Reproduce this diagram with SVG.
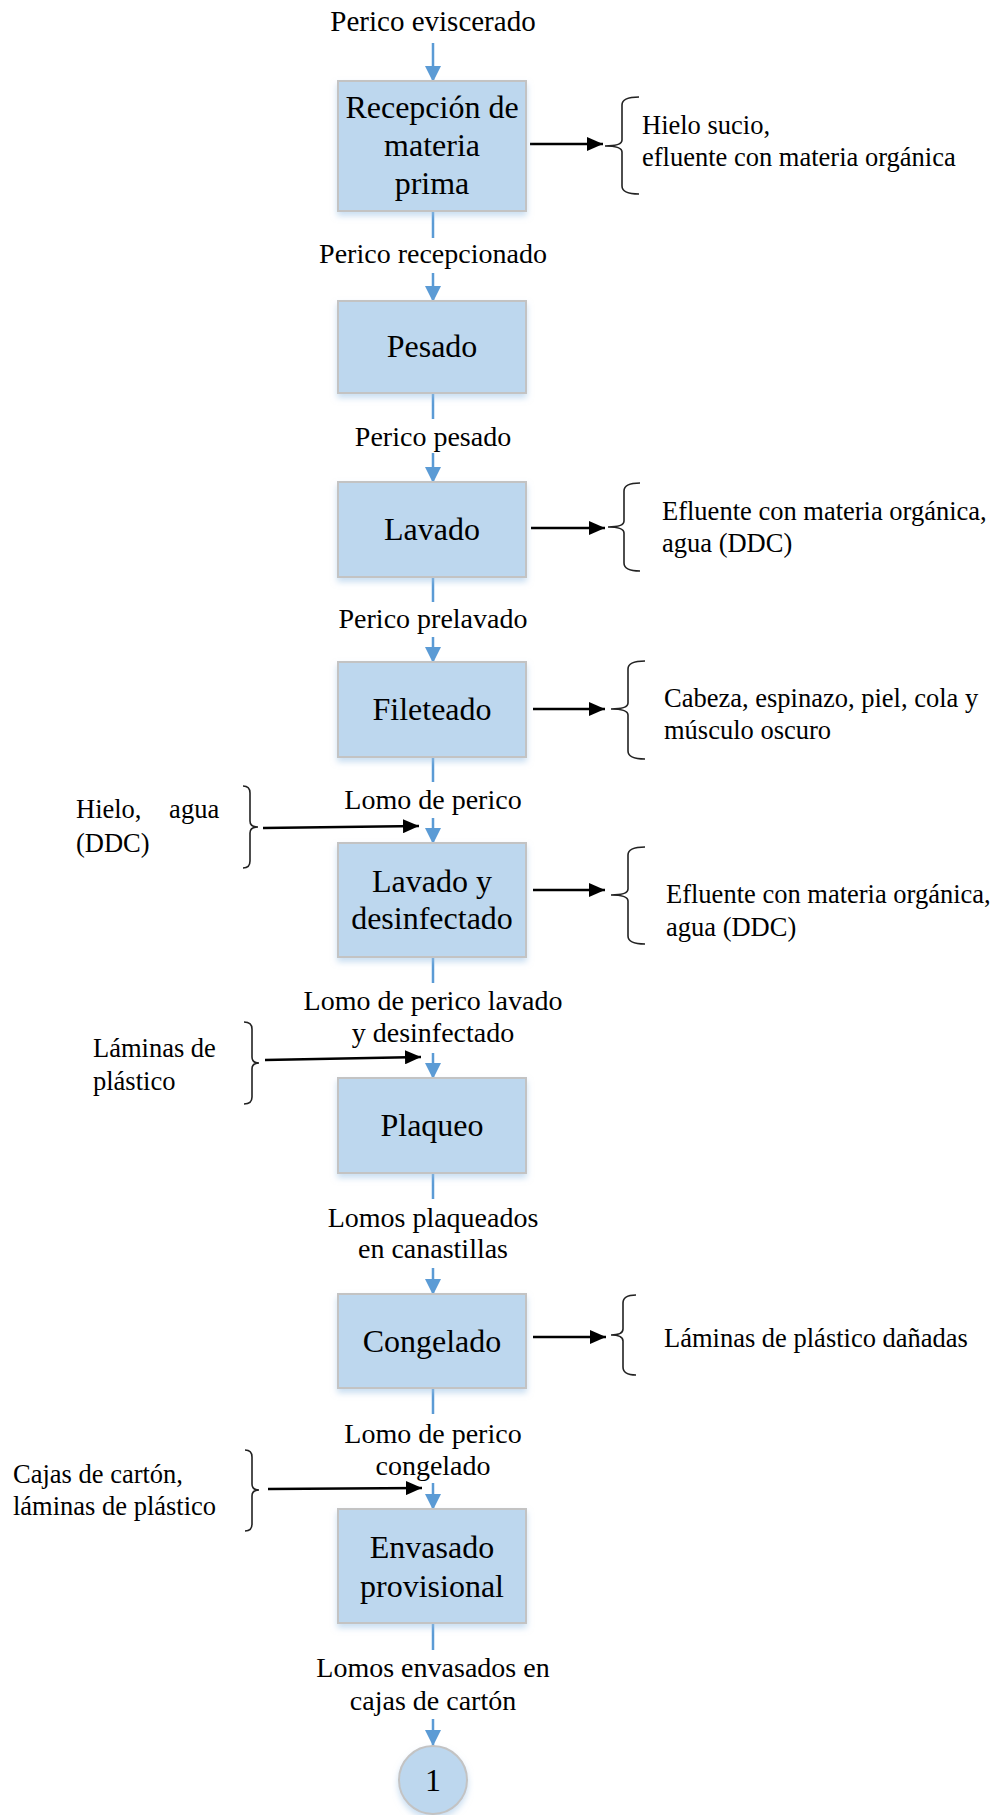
<svg xmlns="http://www.w3.org/2000/svg" width="998" height="1815" viewBox="0 0 998 1815">
  <style>
    .box { fill: #BDD7EE; stroke: #C3C3C3; stroke-width: 2; filter: url(#shadow); }
    .btext { font-family: "Liberation Serif", "Times New Roman", serif; font-size: 32px; fill: #000; text-anchor: middle; }
    .lbl { font-family: "Liberation Serif", "Times New Roman", serif; font-size: 28px; fill: #000; text-anchor: middle; }
    .side { font-family: "Liberation Serif", "Times New Roman", serif; font-size: 26.5px; fill: #000; }
    .flow { stroke: #5B9BD5; stroke-width: 2.5; fill: none; }
    .flowa { stroke: #5B9BD5; stroke-width: 2.5; fill: none; marker-end: url(#blueHead); }
    .out { stroke: #000; stroke-width: 2.5; fill: none; marker-end: url(#blackHead); }
    .brace { stroke: #222; stroke-width: 1.6; fill: none; }
  </style>
  <defs>
    <filter id="shadow" x="-10%" y="-10%" width="120%" height="130%">
      <feDropShadow dx="0" dy="4" stdDeviation="3" flood-color="#9DC3E6" flood-opacity="0.55"/>
    </filter>
    <marker id="blueHead" markerUnits="userSpaceOnUse" markerWidth="16" markerHeight="16" viewBox="0 0 16 16" refX="16" refY="8" orient="auto">
      <path d="M0,0 L16,8 L0,16 Z" fill="#5B9BD5"/>
    </marker>
    <marker id="blackHead" markerUnits="userSpaceOnUse" markerWidth="16" markerHeight="14" viewBox="0 0 16 14" refX="16" refY="7" orient="auto">
      <path d="M0,0 L16,7 L0,14 Z" fill="#000"/>
    </marker>
  </defs>

  <rect width="998" height="1815" fill="#fff"/>

  <!-- vertical flow connectors -->
  <g id="connectors">
    <line class="flowa" x1="433" y1="43" x2="433" y2="82"/>
    <line class="flow" x1="433" y1="211" x2="433" y2="238"/>
    <line class="flowa" x1="433" y1="273" x2="433" y2="302"/>
    <line class="flow" x1="433" y1="393" x2="433" y2="419"/>
    <line class="flowa" x1="433" y1="453" x2="433" y2="483"/>
    <line class="flow" x1="433" y1="577" x2="433" y2="602"/>
    <line class="flowa" x1="433" y1="637" x2="433" y2="663"/>
    <line class="flow" x1="433" y1="757" x2="433" y2="782"/>
    <line class="flowa" x1="433" y1="818" x2="433" y2="844"/>
    <line class="flow" x1="433" y1="957" x2="433" y2="983"/>
    <line class="flowa" x1="433" y1="1053" x2="433" y2="1079"/>
    <line class="flow" x1="433" y1="1173" x2="433" y2="1199"/>
    <line class="flowa" x1="433" y1="1268" x2="433" y2="1295"/>
    <line class="flow" x1="433" y1="1388" x2="433" y2="1414"/>
    <line class="flowa" x1="433" y1="1483" x2="433" y2="1510"/>
    <line class="flow" x1="433" y1="1623" x2="433" y2="1650"/>
    <line class="flowa" x1="433" y1="1719" x2="433" y2="1746"/>

    <!-- outputs to the right -->
    <line class="out" x1="530" y1="144" x2="603" y2="144"/>
    <line class="out" x1="531" y1="528" x2="605" y2="528"/>
    <line class="out" x1="533" y1="709" x2="605" y2="709"/>
    <line class="out" x1="533" y1="890" x2="605" y2="890"/>
    <line class="out" x1="533" y1="1337" x2="606" y2="1337"/>

    <!-- inputs from the left -->
    <line class="out" x1="263" y1="828" x2="419" y2="826"/>
    <line class="out" x1="265" y1="1060" x2="421" y2="1057"/>
    <line class="out" x1="268" y1="1489" x2="422" y2="1488"/>
  </g>

  <!-- input / output flow labels -->
  <g id="flow-labels">
    <text class="lbl" x="433" y="31" style="font-size:29px">Perico eviscerado</text>
    <text class="lbl" x="433" y="263">Perico recepcionado</text>
    <text class="lbl" x="433" y="446">Perico pesado</text>
    <text class="lbl" x="433" y="628">Perico prelavado</text>
    <text class="lbl" x="433" y="809">Lomo de perico</text>
    <text class="lbl" x="433" y="1010">Lomo de perico lavado</text>
    <text class="lbl" x="433" y="1042">y desinfectado</text>
    <text class="lbl" x="433" y="1227">Lomos plaqueados</text>
    <text class="lbl" x="433" y="1258">en canastillas</text>
    <text class="lbl" x="433" y="1443">Lomo de perico</text>
    <text class="lbl" x="433" y="1475">congelado</text>
    <text class="lbl" x="433" y="1677">Lomos envasados en</text>
    <text class="lbl" x="433" y="1710">cajas de cartón</text>
  </g>

  <!-- process steps -->
  <g id="recepcion">
    <rect class="box" x="338" y="81" width="188" height="130"/>
    <text class="btext" x="432" y="118">Recepción de</text>
    <text class="btext" x="432" y="156">materia</text>
    <text class="btext" x="432" y="194">prima</text>
  </g>
  <g id="pesado">
    <rect class="box" x="338" y="301" width="188" height="92"/>
    <text class="btext" x="432" y="357">Pesado</text>
  </g>
  <g id="lavado">
    <rect class="box" x="338" y="482" width="188" height="95"/>
    <text class="btext" x="432" y="540">Lavado</text>
  </g>
  <g id="fileteado">
    <rect class="box" x="338" y="662" width="188" height="95"/>
    <text class="btext" x="432" y="720">Fileteado</text>
  </g>
  <g id="lavado-desinfectado">
    <rect class="box" x="338" y="843" width="188" height="114"/>
    <text class="btext" x="432" y="892">Lavado y</text>
    <text class="btext" x="432" y="929">desinfectado</text>
  </g>
  <g id="plaqueo">
    <rect class="box" x="338" y="1078" width="188" height="95"/>
    <text class="btext" x="432" y="1136">Plaqueo</text>
  </g>
  <g id="congelado">
    <rect class="box" x="338" y="1294" width="188" height="94"/>
    <text class="btext" x="432" y="1352">Congelado</text>
  </g>
  <g id="envasado">
    <rect class="box" x="338" y="1509" width="188" height="114"/>
    <text class="btext" x="432" y="1558">Envasado</text>
    <text class="btext" x="432" y="1597">provisional</text>
  </g>
  <g id="conector-1">
    <circle cx="433" cy="1780" r="34" fill="#BDD7EE" stroke="#C3C3C3" stroke-width="2" filter="url(#shadow)"/>
    <text class="btext" x="433" y="1791">1</text>
  </g>

  <!-- residues (right) -->
  <g id="residuo-recepcion">
    <path class="brace" d="M639,97 Q622,97 622,105 L622,140 Q622,146 605,146 Q622,146 622,152 L622,186 Q622,194 639,194"/>
    <text class="side" x="642" y="134">Hielo sucio,</text>
    <text class="side" x="642" y="166">efluente con materia orgánica</text>
  </g>
  <g id="residuo-lavado">
    <path class="brace" d="M640,483 Q624,483 624,491 L624,521 Q624,527 608,527 Q624,527 624,533 L624,563 Q624,571 640,571"/>
    <text class="side" x="662" y="520">Efluente con materia orgánica,</text>
    <text class="side" x="662" y="552">agua (DDC)</text>
  </g>
  <g id="residuo-fileteado">
    <path class="brace" d="M645,661 Q628,661 628,669 L628,703 Q628,709 611,709 Q628,709 628,715 L628,751 Q628,759 645,759"/>
    <text class="side" x="664" y="707">Cabeza, espinazo, piel, cola y</text>
    <text class="side" x="664" y="739">músculo oscuro</text>
  </g>
  <g id="residuo-lavado-desinfectado">
    <path class="brace" d="M645,847 Q628,847 628,855 L628,889 Q628,895 611,895 Q628,895 628,901 L628,936 Q628,944 645,944"/>
    <text class="side" x="666" y="903">Efluente con materia orgánica,</text>
    <text class="side" x="666" y="936">agua (DDC)</text>
  </g>
  <g id="residuo-congelado">
    <path class="brace" d="M636,1295 Q623,1295 623,1303 L623,1329 Q623,1335 611,1335 Q623,1335 623,1341 L623,1367 Q623,1375 636,1375"/>
    <text class="side" x="664" y="1347">Láminas de plástico dañadas</text>
  </g>

  <!-- inputs (left) -->
  <g id="insumo-lavado-desinfectado">
    <path class="brace" d="M243,786 Q250,786 250,793 L250,821 Q250,827 258,827 Q250,827 250,833 L250,861 Q250,868 243,868"/>
    <text class="side" x="76" y="818" word-spacing="21">Hielo, agua</text>
    <text class="side" x="76" y="852">(DDC)</text>
  </g>
  <g id="insumo-plaqueo">
    <path class="brace" d="M244,1022 Q252,1022 252,1029 L252,1057 Q252,1063 259,1063 Q252,1063 252,1069 L252,1097 Q252,1104 244,1104"/>
    <text class="side" x="93" y="1057">Láminas de</text>
    <text class="side" x="93" y="1090">plástico</text>
  </g>
  <g id="insumo-envasado">
    <path class="brace" d="M245,1450 Q252,1450 252,1457 L252,1484 Q252,1490 259,1490 Q252,1490 252,1496 L252,1524 Q252,1531 245,1531"/>
    <text class="side" x="13" y="1483">Cajas de cartón,</text>
    <text class="side" x="13" y="1515">láminas de plástico</text>
  </g>
</svg>
